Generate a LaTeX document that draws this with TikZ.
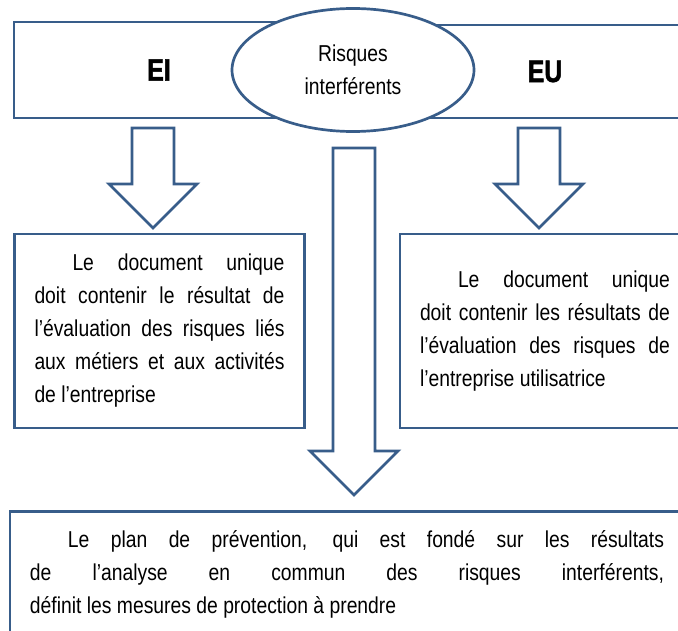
\documentclass[tikz,border=0pt]{standalone}
\usepackage{fontspec}
\setmainfont{Liberation Sans}[FakeStretch=0.84]
\newfontfamily\titlefont{Liberation Sans Bold}[FakeStretch=0.8, FakeBold=1.6]
\usepackage{tikz}
\usetikzlibrary{shapes,arrows,positioning,calc}
\usepackage{xcolor}
\definecolor{frameblue}{RGB}{56,93,138}

% hollow block arrow pointing down: x, top y, tip y
\newcommand{\blockarrow}[3]{%
  \draw[hollowarrow] (#1-21,#2) -- (#1+21,#2) -- (#1+21,#3-44) -- (#1+44,#3-44)
    -- (#1,#3) -- (#1-44,#3-44) -- (#1-21,#3-44) -- cycle;}

\begin{document}
\begin{tikzpicture}[
    x=1pt, y=-1pt,
    every node/.style={font=\fontsize{23}{33}\selectfont},
    panel/.style={draw=frameblue, line width=2.7pt, fill=white, rectangle, inner sep=0pt},
    title/.style={panel, font=\fontsize{31}{36}\selectfont\titlefont},
    textbox/.style={panel, align=justify, inner xsep=20pt, inner ysep=19pt},
    hollowarrow/.style={draw=frameblue, line width=2.7pt, fill=white, line join=miter}
]
\useasboundingbox (0,0) rectangle (678,631);
\clip (0,0) rectangle (678,631);

% top band
\node[title, minimum width=490pt, minimum height=93pt] (eu) at (545,71.5) {EU};
\node[title, minimum width=290pt, minimum height=96pt] (ei) at (159,70) {EI};
\node[panel, ellipse, minimum width=242pt, minimum height=123pt, align=center] (risques) at (353,70)
    {Risques\\interférents};

% arrows
\blockarrow{153}{128}{228}
\blockarrow{539}{128}{228}
\blockarrow{354}{148}{495}

% document unique boxes
\node[textbox, text width=250pt, minimum height=194pt] (duei) at (159.5,331) {%
    \hyphenpenalty=10000\hspace*{38pt}Le document unique\linebreak
    doit contenir le résultat de\linebreak
    l’évaluation des risques liés\linebreak
    aux métiers et aux activités\linebreak
    de l’entreprise};
\node[textbox, text width=250pt, minimum height=194pt] (dueu) at (545,331) {%
    \hyphenpenalty=10000\hspace*{38pt}Le document unique\linebreak
    doit contenir les résultats de\linebreak
    l’évaluation des risques de\linebreak
    l’entreprise utilisatrice};

% plan de prevention
\node[textbox, text width=634pt, anchor=north] (plan) at (347,510) {%
    \hyphenpenalty=10000\hspace*{38pt}Le plan de prévention, qui est fondé sur les résultats\linebreak
    de l’analyse en commun des risques interférents,\linebreak
    définit les mesures de protection à prendre};
\end{tikzpicture}
\end{document}
